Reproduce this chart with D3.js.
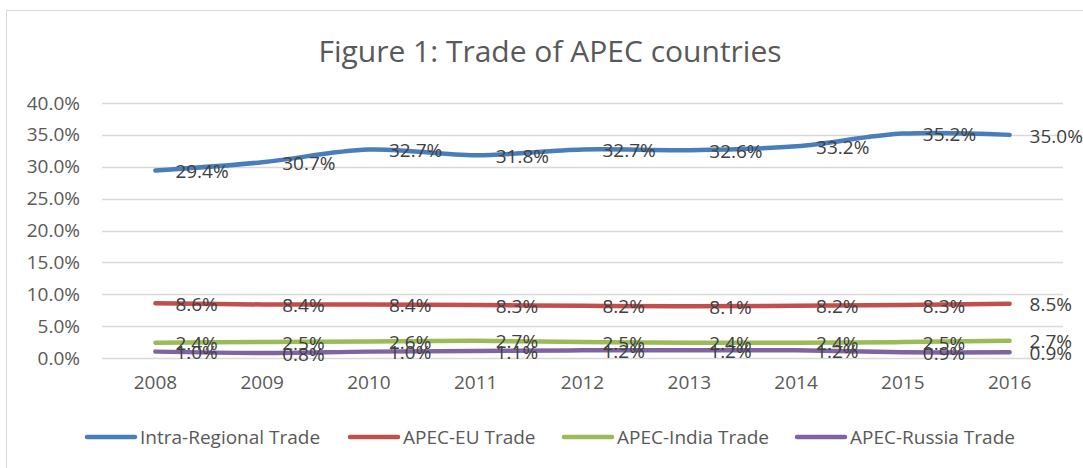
<!DOCTYPE html>
<html>
<head>
<meta charset="utf-8">
<script src="https://cdn.jsdelivr.net/npm/d3@7"></script>
<style>
  body { margin: 0; background: #fff; }
  text { font-family: "Open Sans", sans-serif; }
</style>
</head>
<body>
<script>
const years = ['2008', '2009', '2010', '2011', '2012', '2013', '2014', '2015', '2016'];
const seriesNames = ['Intra-Regional Trade', 'APEC-EU Trade', 'APEC-India Trade', 'APEC-Russia Trade'];
const intraRegional = [29.4, 30.7, 32.7, 31.8, 32.7, 32.6, 33.2, 35.2, 35.0];
const apecEU = [8.6, 8.4, 8.4, 8.3, 8.2, 8.1, 8.2, 8.3, 8.5];
const apecIndia = [2.4, 2.5, 2.6, 2.7, 2.5, 2.4, 2.4, 2.5, 2.7];
const apecRussia = [1.0, 0.8, 1.0, 1.1, 1.2, 1.2, 1.2, 0.9, 0.9];
const yTicks = [0, 5, 10, 15, 20, 25, 30, 35, 40];

const colors = ['#4a7ebb', '#c0504d', '#9bbb59', '#8064a2'];
const allSeries = [intraRegional, apecEU, apecIndia, apecRussia];

const w = 1083, h = 468;
const plotLeft = 102, plotRight = 1063, plotTop = 103, plotBottom = 358;

const svg = d3.select('body').append('svg')
  .attr('width', w)
  .attr('height', h);

// chart frame
svg.append('rect')
  .attr('x', 6.5).attr('y', 10.5)
  .attr('width', 1090).attr('height', 470)
  .attr('fill', '#fff')
  .attr('stroke', '#d9d9d9');

const xScale = d3.scaleBand().domain(years).range([plotLeft, plotRight]);
const xc = d => xScale(d) + xScale.bandwidth() / 2;

const yScale = d3.scaleLinear().domain([0, 40]).range([plotBottom, plotTop]);

// gridlines
svg.append('g')
  .selectAll('line')
  .data(yTicks)
  .enter()
  .append('line')
  .attr('x1', plotLeft).attr('x2', plotRight)
  .attr('y1', d => Math.round(yScale(d)) + 0.5)
  .attr('y2', d => Math.round(yScale(d)) + 0.5)
  .attr('stroke', '#d9d9d9')
  .attr('stroke-width', 1.5);

const yAxis = d3.axisLeft(yScale)
  .tickValues(yTicks)
  .tickFormat(d => d.toFixed(1) + '%')
  .tickSize(0)
  .tickPadding(22);

const yg = svg.append('g')
  .attr('transform', 'translate(' + plotLeft + ',0)')
  .call(yAxis);
yg.select('.domain').remove();
yg.selectAll('text')
  .attr('fill', '#595959')
  .style('font-size', '19px');

const xAxis = d3.axisBottom(xScale).tickSize(0).tickPadding(18);
const xg = svg.append('g')
  .attr('transform', 'translate(0,' + plotBottom + ')')
  .call(xAxis);
xg.select('.domain').remove();
xg.selectAll('text')
  .attr('fill', '#595959')
  .style('font-size', '19px');

// lines
const line = d3.line()
  .x((d, i) => xc(years[i]))
  .y(d => yScale(d))
  .curve(d3.curveCatmullRom.alpha(0.5));

svg.append('g')
  .selectAll('path')
  .data(allSeries)
  .enter()
  .append('path')
  .attr('d', d => line(d))
  .attr('fill', 'none')
  .attr('stroke', (d, i) => colors[i])
  .attr('stroke-width', 4.5)
  .attr('stroke-linecap', 'round');

// data labels, drawn right of each point
allSeries.forEach(function (vals) {
  svg.append('g')
    .selectAll('text')
    .data(vals)
    .enter()
    .append('text')
    .attr('x', (d, i) => xc(years[i]) + 20)
    .attr('y', d => yScale(d) + 1)
    .attr('dy', '0.35em')
    .attr('fill', '#404040')
    .style('font-size', '19px')
    .text(d => d.toFixed(1) + '%');
});

svg.append('text')
  .attr('x', 550)
  .attr('y', 62)
  .attr('text-anchor', 'middle')
  .attr('fill', '#595959')
  .style('font-size', '30px')
  .text('Figure 1: Trade of APEC countries');

// legend
const legendX = [87, 350, 564, 797];
const legend = svg.append('g')
  .selectAll('g')
  .data(seriesNames)
  .enter()
  .append('g')
  .attr('transform', (d, i) => 'translate(' + legendX[i] + ',437)');

legend.append('line')
  .attr('x1', 0).attr('x2', 48)
  .attr('stroke', (d, i) => colors[i])
  .attr('stroke-width', 4.5)
  .attr('stroke-linecap', 'round');

legend.append('text')
  .attr('x', 53)
  .attr('dy', '0.35em')
  .attr('fill', '#595959')
  .style('font-size', '19px')
  .text(d => d);
</script>
</body>
</html>
